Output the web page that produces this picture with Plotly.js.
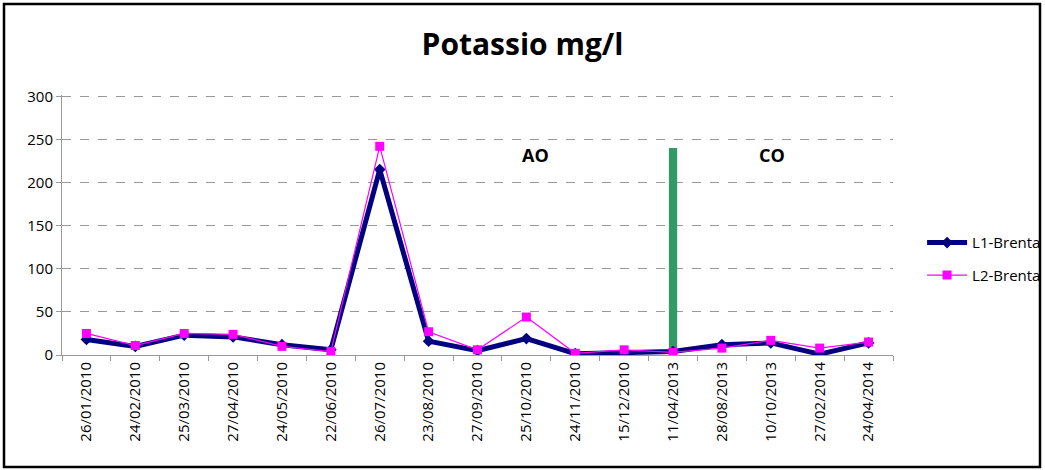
<!DOCTYPE html>
<html>
<head>
<meta charset="utf-8">
<script src="https://cdn.plot.ly/plotly-3.0.1.min.js"></script>
<style>
  html, body { margin: 0; padding: 0; background: #fff; }
  #chart { width: 1045px; height: 470px; }
</style>
</head>
<body>
<div id="chart"></div>
<script>
const categories = ["26/01/2010","24/02/2010","25/03/2010","27/04/2010","24/05/2010","22/06/2010","26/07/2010","23/08/2010","27/09/2010","25/10/2010","24/11/2010","15/12/2010","11/04/2013","28/08/2013","10/10/2013","27/02/2014","24/04/2014"];
const l1Brenta = [18, 10, 23, 21, 12, 6, 215, 16, 5, 19, 1.5, 3, 4, 12, 14, 1, 14];
const l2Brenta = [25, 11, 25, 24, 10, 4, 242, 27, 6, 44, 2, 6, 3, 8, 17, 8, 15];
const separatorCategory = ["11/04/2013"];
const separatorHeight = [240];
const yTicks = [0, 50, 100, 150, 200, 250, 300];

const font = "'Open Sans', 'Noto Sans', sans-serif";

const traces = [
  {
    type: "bar",
    x: separatorCategory,
    y: separatorHeight,
    width: 0.17,
    marker: { color: "#339966" },
    showlegend: false,
    hoverinfo: "skip"
  },
  {
    type: "scatter",
    mode: "lines+markers",
    name: "L1-Brenta",
    legendgroup: "g1",
    x: categories,
    y: l1Brenta,
    line: { color: "#000080", width: 5 },
    marker: { symbol: "diamond", size: 9, color: "#000080" }
  },
  {
    type: "scatter",
    mode: "lines+markers",
    name: "L2-Brenta",
    legendgroup: "g2",
    x: categories,
    y: l2Brenta,
    line: { color: "#FF00FF", width: 1.2 },
    marker: { symbol: "square", size: 9, color: "#FF00FF" }
  }
];

const layout = {
  width: 1045,
  height: 470,
  margin: { l: 62, r: 152, t: 95, b: 115, autoexpand: false },
  paper_bgcolor: "#ffffff",
  plot_bgcolor: "#ffffff",
  font: { family: font, color: "#000", size: 14 },
  title: {
    text: "<b>Potassio mg/l</b>",
    font: { family: font, size: 30, color: "#000" },
    x: 0.5, xref: "container", xanchor: "center",
    y: 0.905, yref: "container", yanchor: "middle"
  },
  xaxis: {
    type: "category",
    categoryorder: "array",
    categoryarray: categories,
    range: [-0.5, categories.length - 0.5],
    tickangle: -90,
    tickfont: { family: font, size: 15, color: "#000" },
    showline: true, linecolor: "#999999", linewidth: 1,
    ticks: "outside", tickson: "boundaries", ticklen: 5, tickcolor: "#999999",
    showgrid: false, zeroline: false,
    automargin: false,
    fixedrange: true
  },
  yaxis: {
    range: [0, 301.5],
    tickvals: yTicks,
    tickfont: { family: font, size: 15, color: "#000" },
    showline: true, linecolor: "#999999", linewidth: 1,
    ticks: "outside", ticklen: 5, tickcolor: "#999999",
    showgrid: true, gridcolor: "#999999", griddash: "dash", gridwidth: 1,
    zeroline: false,
    automargin: false,
    fixedrange: true
  },
  showlegend: true,
  legend: {
    x: 1.035, xanchor: "left",
    y: 0.37, yanchor: "middle",
    font: { family: font, size: 15, color: "#000" },
    bgcolor: "rgba(0,0,0,0)",
    itemwidth: 40,
    tracegroupgap: 10
  },
  annotations: [
    { text: "<b>AO</b>", xref: "paper", yref: "paper", x: (535 - 62) / 831, y: (355 - 155) / 260,
      xanchor: "center", yanchor: "middle",
      showarrow: false, font: { family: font, size: 18, color: "#000" } },
    { text: "<b>CO</b>", xref: "paper", yref: "paper", x: (772 - 62) / 831, y: (355 - 155) / 260,
      xanchor: "center", yanchor: "middle",
      showarrow: false, font: { family: font, size: 18, color: "#000" } }
  ],
  shapes: [
    { type: "rect", xref: "paper", yref: "paper",
      x0: (4 - 62) / 831, x1: (1040 - 62) / 831,
      y0: (355 - 467) / 260, y1: (355 - 4) / 260,
      line: { color: "#000", width: 2.5 }, fillcolor: "rgba(0,0,0,0)", layer: "above" }
  ]
};

Plotly.newPlot("chart", traces, layout, { staticPlot: true, displayModeBar: false });
</script>
</body>
</html>
